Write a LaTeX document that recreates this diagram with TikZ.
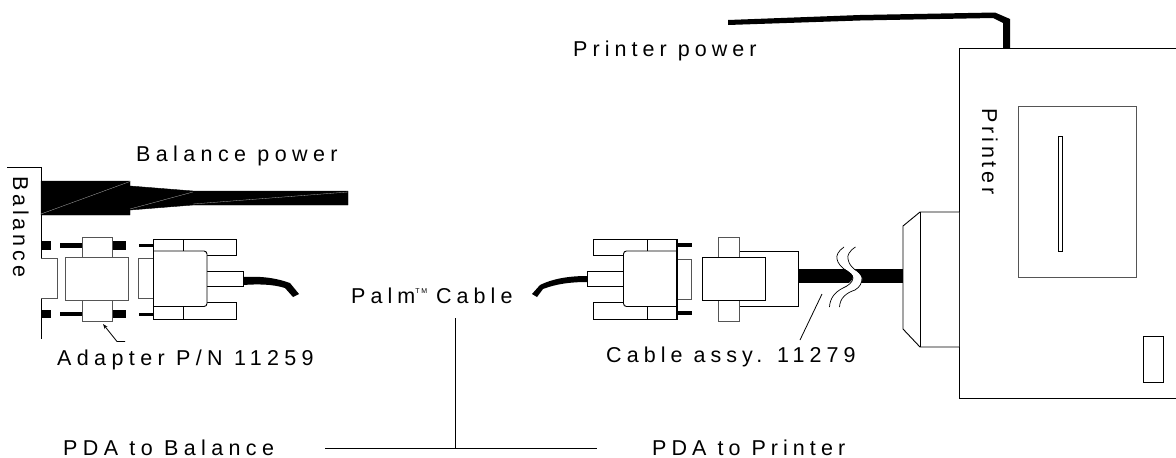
\documentclass[tikz,border=0pt]{standalone}
\usepackage{fontspec}
\setmainfont[LetterSpace=25]{Liberation Sans}
\newfontfamily\tightfont[LetterSpace=23.5]{Liberation Sans}
\newfontfamily\sidefont[LetterSpace=18]{Liberation Sans}
\usetikzlibrary{arrows.meta}
\definecolor{drawInk}{HTML}{000000}
\definecolor{drawGray}{HTML}{555555}
\tikzset{
  every picture/.style={font=\fontsize{21.5}{24}\selectfont, text=drawInk},
  part box/.style={draw=drawInk, line width=0.9pt, fill=white},
  part thin/.style={draw=drawGray, line width=0.9pt, fill=white},
  wave line/.style={draw=drawInk, line width=0.7pt},
  power cord/.style={fill=drawInk, draw=drawInk, line width=0.4pt},
  cord seam/.style={draw=white!70!black, line width=0.3pt},
  lead line/.style={draw=drawInk, line width=0.8pt},
  label text/.style={inner sep=0pt, anchor=base west}
}
\begin{document}
\begin{tikzpicture}[x=1pt,y=-1pt]
  \useasboundingbox (0,0) rectangle (1176,458);
  % balance side
  \draw[lead line] (7,167.5) -- (41,167.5) -- (41,339);
  \filldraw[power cord] (41,181) -- (130,181) -- (130,186) -- (193,191) -- (348,191) -- (348,205)
    -- (193,205) -- (130,210) -- (130,215) -- (41,215) -- cycle;
  \draw[cord seam] (41,214) -- (130,181.5);
  \draw[cord seam] (130,209) -- (193,192);
  \draw[cord seam] (193,204) -- (348,192);
  % adapter
  \fill[drawInk] (41,241) rectangle (51,250);
  \fill[drawInk] (41,310) rectangle (51,318);
  \fill[drawInk] (60,243) rectangle (82,248);
  \fill[drawInk] (60,312) rectangle (82,316);
  \fill[drawInk] (113,241) rectangle (126,250);
  \fill[drawInk] (113,310) rectangle (126,318);
  \draw[part thin] (41,258.5) -- (57,258.5) -- (57,298.5) -- (41,298.5);
  \draw[part thin] (82.5,237.5) rectangle (112.5,257.5);
  \draw[part thin] (82.5,300) rectangle (112.5,321);
  \draw[part thin] (65.5,257.5) rectangle (128,300);
  \draw[lead line,-{Stealth[length=5pt,width=3.5pt]}] (125,341.5) -- (117,341.5) -- (103,324);
  % left plug
  \fill[drawInk] (139,244) rectangle (153,247);
  \fill[drawInk] (139,313) rectangle (153,316);
  \draw[part thin] (153,258.5) -- (138.5,258.5) -- (138.5,298.5) -- (153,298.5);
  \draw[part box] (153,239) rectangle (236,255.5);
  \draw[part box] (153,302) rectangle (236,319.5);
  \draw[part box] (183,239) -- (183,251);
  \draw[part box] (183,307) -- (183,319.5);
  \draw[part box] (206.5,271.5) rectangle (243,286.5);
  \draw[part box,rounded corners=3pt] (154,251) -- (207,251) -- (207,306.5) -- (154,306.5);
  \draw[draw=drawInk,line width=1.6pt] (153.5,239) -- (153.5,319.5);
  \fill[drawInk] (243,277) .. controls (262,276) and (276,278) .. (290,283) -- (299,294) -- (293,297)
    -- (285,288) .. controls (272,284) and (258,284) .. (243,285) -- cycle;
  % palm cable and brackets
  \draw[lead line] (455,318) -- (455,448);
  \draw[lead line] (325,448) -- (597,448);
  % right plug
  \fill[drawInk] (677,243) rectangle (692,247);
  \fill[drawInk] (677,311) rectangle (692,315);
  \draw[part thin] (677,259.5) -- (691.5,259.5) -- (691.5,299) -- (677,299);
  \draw[part box] (593.5,239) rectangle (677,255.5);
  \draw[part box] (593.5,302) rectangle (677,319.5);
  \draw[part box] (647.5,239) -- (647.5,251);
  \draw[part box] (647.5,307) -- (647.5,319.5);
  \draw[part box] (587.5,271.5) rectangle (623.5,286.5);
  \draw[part box,rounded corners=3pt] (676,251) -- (623.5,251) -- (623.5,306.5) -- (676,306.5);
  \draw[draw=drawInk,line width=1.6pt] (677,239) -- (677,319.5);
  \fill[drawInk] (587,276) .. controls (568,276) and (552,279) .. (540,285) -- (532,294) -- (537,297)
    -- (543,289) .. controls (556,284) and (570,282) .. (587,282) -- cycle;
  % cable assy
  \draw[part box] (739,251) rectangle (798,306);
  \draw[part thin] (718,237.5) rectangle (739,257.5);
  \draw[part thin] (718,300) rectangle (739,321);
  \draw[part box] (702.5,257.5) rectangle (765,300);
  \fill[drawInk] (798,269) rectangle (904,283);
  \fill[white] (843,268) .. controls (850,272) and (854,275) .. (853,278) .. controls (852,281) and (848,284) .. (843,288)
    -- (855,290) .. controls (860,285) and (863,281) .. (862,278) .. controls (861,275) and (858,272) .. (853,268) -- cycle;
  \draw[wave line] (844,247) .. controls (838,251) and (836,256) .. (837,259) .. controls (838,264) and (841,266) .. (844,269)
    .. controls (849,272) and (853,275) .. (853,278) .. controls (853,282) and (848,286) .. (843,288)
    .. controls (835,292) and (830,298) .. (829.5,307);
  \draw[wave line] (855.5,247) .. controls (849,251) and (847,256) .. (848,259) .. controls (849,264) and (851,266) .. (854,269)
    .. controls (859,272) and (862,275) .. (862,278) .. controls (862,283) and (860,287) .. (855,290)
    .. controls (846,293) and (840,298) .. (839.5,307);
  \draw[lead line] (822,294) -- (800,340);
  % printer
  \draw[lead line] (1176,48) -- (959,48) -- (959,398) -- (1176,398);
  \draw[part box] (959,212) -- (920,212) -- (903,226) -- (903,329) -- (920,347) -- (959,347);
  \draw[part box] (920,212) -- (920,347);
  \draw[part thin] (1018,106) rectangle (1136,277);
  \draw[part box] (1058.5,136.5) rectangle (1062.5,251);
  \draw[part box] (1143.5,336) rectangle (1163.5,382);
  \fill[drawInk] (728,20) -- (860,15) -- (995,12.5) -- (1010,19) -- (1010,48) -- (1003,48)
    -- (1003,23) -- (993,18) -- (860,20.5) -- (728,25) -- cycle;
  % labels
  \node[label text] (printerpower) at (573,56) {\tightfont Printer power};
  \node[label text] (balancepower) at (136,161) {Balance power};
  \node[label text] (adapter) at (57,365) {Adapter P/N 11259};
  \node[label text] (palm) at (351,303) {\tightfont Palm\raisebox{10pt}{\fontsize{7}{7}\selectfont TM}\kern-2pt{} Cable};
  \node[label text] (assy) at (606,362) {\tightfont Cable assy. 11279};
  \node[label text] (pdabalance) at (63,455) {PDA to Balance};
  \node[label text] (pdaprinter) at (652,455) {\tightfont PDA to Printer};
  \node[label text,rotate=-90] (balance) at (13,176) {\sidefont Balance};
  \node[label text,rotate=-90] (printer) at (982,108) {\sidefont Printer};
\end{tikzpicture}
\end{document}
